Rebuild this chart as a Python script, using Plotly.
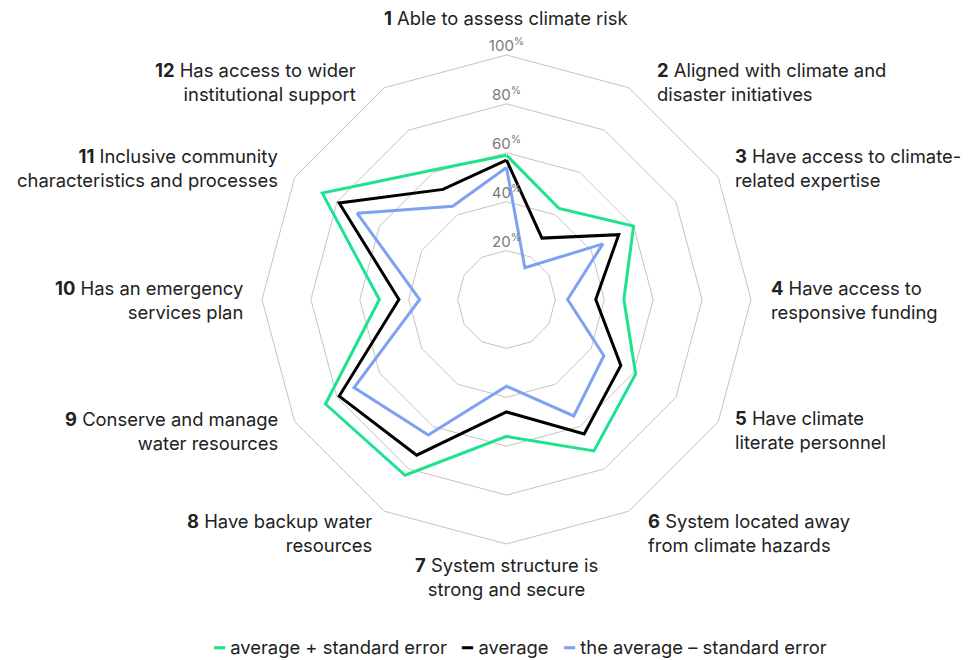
import math
import plotly.graph_objects as go

# ---- data ----
categories = [
    "Able to assess climate risk",
    "Aligned with climate and<br>disaster initiatives",
    "Have access to climate-<br>related expertise",
    "Have access to<br>responsive funding",
    "Have climate<br>literate personnel",
    "System located away<br>from climate hazards",
    "System structure is<br>strong and secure",
    "Have backup water<br>resources",
    "Conserve and manage<br>water resources",
    "Has an emergency<br>services plan",
    "Inclusive community<br>characteristics and processes",
    "Has access to wider<br>institutional support",
]
category_numbers = [str(i) for i in range(1, 13)]

avg_plus_se = [59, 43, 60, 48, 61, 71.5, 56, 83, 85.5, 52, 87, 61]
average = [57, 29, 53, 36.5, 54, 63.5, 46, 73.5, 79, 44, 79, 52]
avg_minus_se = [54, 15, 45.5, 25, 46, 55, 35.5, 64, 72, 35.5, 70.5, 44]

series_names = ["average + standard error", "average", "the average – standard error"]
series_colors = ["#1ee28f", "#000000", "#7ea2f2"]

radial_ticks = [0, 20, 40, 60, 80, 100]
radial_tick_labels = [f"{t}<sup>%</sup>" for t in radial_ticks]

# ---- layout constants ----
W, H = 972, 660
CX, CY, R = 506.5, 299.5, 244.5
FONT = "Inter, 'Noto Sans', sans-serif"
FONT_SIZE = 18.4
TEXT_COLOR = "#222222"
GRID = "#c4c4c4"

fig = go.Figure()
theta_keys = category_numbers + [category_numbers[0]]
for name, vals, col in zip(series_names, [avg_plus_se, average, avg_minus_se], series_colors):
    fig.add_trace(go.Scatterpolar(
        r=vals + [vals[0]], theta=theta_keys, mode="lines", name=name,
        line=dict(color=col, width=3), showlegend=False, hoverinfo="skip",
    ))

# radial tick labels along the top spoke
fig.add_trace(go.Scatterpolar(
    r=radial_ticks, theta=[category_numbers[0]] * len(radial_ticks),
    mode="text", text=radial_tick_labels, textposition="top center",
    textfont=dict(family=FONT, size=15, color="#7a7a7a"),
    showlegend=False, hoverinfo="skip", cliponaxis=False,
))

fig.update_layout(
    width=W, height=H,
    margin=dict(l=0, r=0, t=0, b=0),
    paper_bgcolor="white", plot_bgcolor="white",
    polar=dict(
        domain=dict(x=[(CX - R) / W, (CX + R) / W], y=[(H - CY - R) / H, (H - CY + R) / H]),
        gridshape="linear",
        bgcolor="white",
        radialaxis=dict(range=[0, 100], tickvals=radial_ticks, showticklabels=False,
                        ticks="", showline=False, gridcolor=GRID, gridwidth=1, angle=90),
        angularaxis=dict(type="category", categoryarray=category_numbers,
                         direction="clockwise", rotation=90,
                         showticklabels=False, ticks="", showgrid=False,
                         showline=True, linecolor=GRID, linewidth=1),
    ),
)

# category labels around the chart
n = len(categories)
for i, (num, txt) in enumerate(zip(category_numbers, categories)):
    a = math.radians(360 * i / n)
    s, c = math.sin(a), math.cos(a)
    rx, ry = 262, 262
    if i in (1, 11):
        rx, ry = 297, 251
    elif i == 5:
        rx, ry = 279, 270
    elif i == 7:
        rx, ry = 265, 270
    if abs(s) < 0.1:
        xanchor, align = "center", "center"
    elif s > 0:
        xanchor, align = "left", "left"
    else:
        xanchor, align = "right", "right"
    if c > 0.9:
        yanchor, ry = "bottom", 268
    elif c < -0.9:
        yanchor, ry = "top", 252
    else:
        yanchor = "middle"
    px = CX + rx * s
    py = CY - ry * c
    fig.add_annotation(
        x=px / W, y=1 - py / H, xref="paper", yref="paper",
        text=f"<b>{num}</b> {txt}", showarrow=False,
        xanchor=xanchor, yanchor=yanchor, align=align,
        font=dict(family=FONT, size=FONT_SIZE, color=TEXT_COLOR),
    )

# legend row
legend_parts = [
    f"<span style='color:{col}'>━</span> {name}" for name, col in zip(series_names, series_colors)
]
fig.add_annotation(
    x=520 / W, y=1 - 647 / H, xref="paper", yref="paper",
    text="   ".join(legend_parts), showarrow=False,
    xanchor="center", yanchor="middle", borderpad=0,
    font=dict(family=FONT, size=FONT_SIZE, color=TEXT_COLOR),
)

fig.write_html("out.html", config={"displayModeBar": False},
               post_script="document.body.style.margin='0';")
